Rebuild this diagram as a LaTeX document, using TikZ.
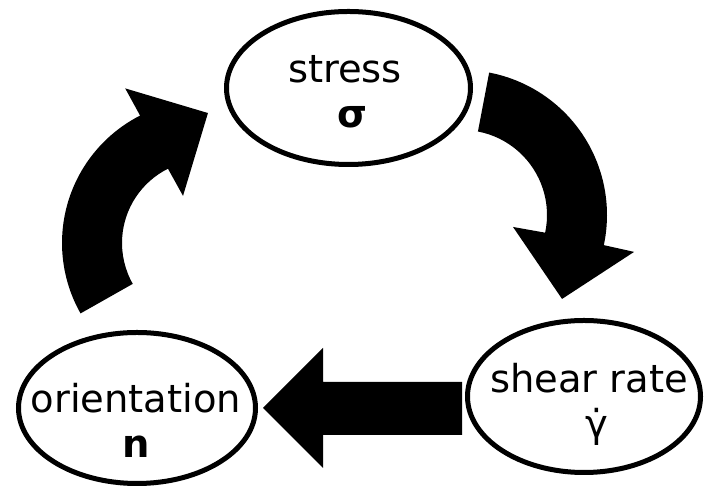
\documentclass[tikz,border=0pt]{standalone}
\usepackage{fontspec}
\setmainfont{DejaVu Sans}
\usetikzlibrary{shapes.geometric}
\tikzset{
  ell/.style={draw=black, line width=5pt, ellipse, inner sep=0pt},
  lbl/.style={inner sep=0pt, anchor=base, font=\fontsize{38.5}{45}\selectfont},
  blockarrow/.style={fill=black, draw=none}
}
\begin{document}
\begin{tikzpicture}[x=1pt,y=1pt]
\useasboundingbox (0,0) rectangle (704,486);
% ellipses
\node[ell, minimum width=244pt, minimum height=153pt] (stress) at (348.5,398) {};
\node[ell, minimum width=233pt, minimum height=152pt] (shear) at (584,89.5) {};
\node[ell, minimum width=237pt, minimum height=151pt] (orient) at (137,78) {};
% labels
\node[lbl] (stressT) at (345,403) {stress};
\node[lbl] (stressS) at (352,358) {\textbf{σ}};
\node[lbl] (shearT) at (589,93) {shear rate};
\node[lbl] (shearS) at (597,48) {γ̇};
\node[lbl] (orientT) at (136,73) {orientation};
\node[lbl] (orientS) at (136,28) {\textbf{n}};
% curved arrow: orientation -> stress
\coordinate (cl) at (205,243);
\fill[blockarrow] ([shift={(cl)}]209.5:143) arc[start angle=209.5, end angle=117, radius=143]
  -- ([shift={(cl)}]117.3:174) -- ([shift={(cl)}]88.7:130) -- ([shift={(cl)}]115:52)
  -- ([shift={(cl)}]116.5:83) arc[start angle=116.5, end angle=209.5, radius=83] -- cycle;
% curved arrow: stress -> shear rate
\coordinate (cr) at (462,271);
\fill[blockarrow] ([shift={(cr)}]79.2:145) arc[start angle=79.2, end angle=-12, radius=145]
  -- ([shift={(cr)}]-12.1:176) -- ([shift={(cr)}]-40:130.6) -- ([shift={(cr)}]-13.2:52.4)
  -- ([shift={(cr)}]-12:85) arc[start angle=-12, end angle=79.2, radius=85] -- cycle;
% straight arrow: shear rate -> orientation
\fill[blockarrow] (462,104) -- (323,104) -- (323,138) -- (263,78) -- (323,18) -- (323,51) -- (462,51) -- cycle;
\end{tikzpicture}
\end{document}
